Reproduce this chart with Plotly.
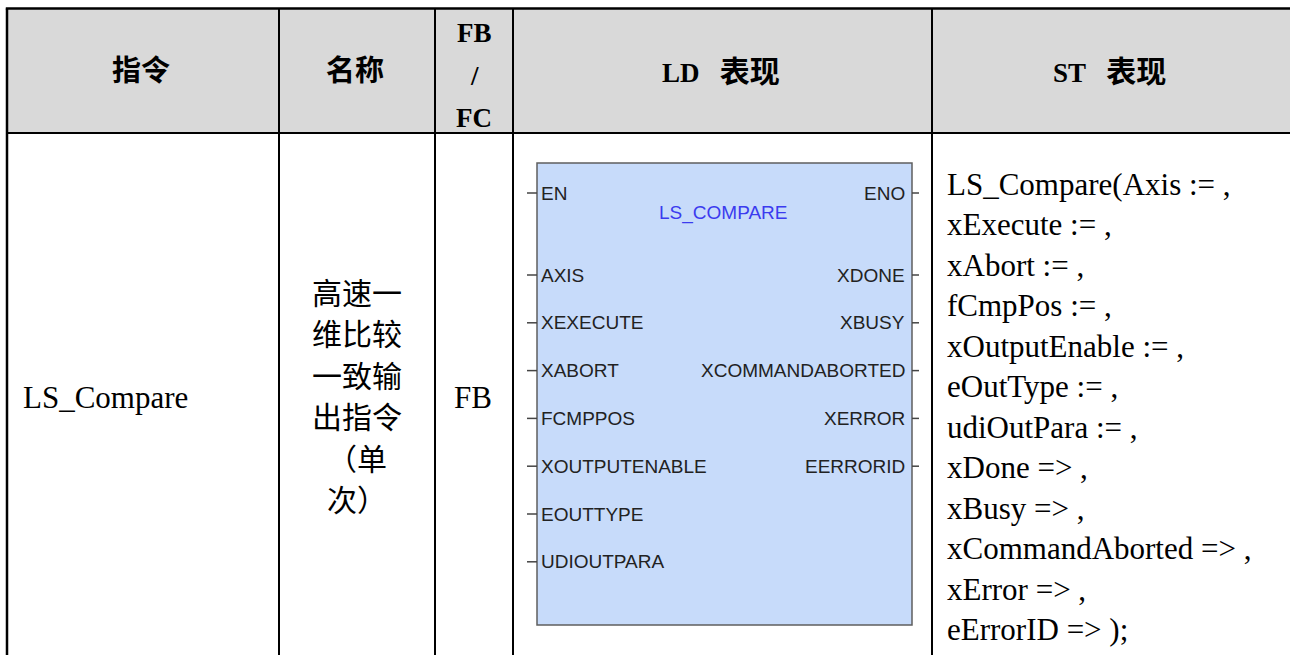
import plotly.graph_objects as go

# ---------------- data (table content) ----------------
header_labels = ["指令", "名称", "FB / FC", ("LD", "表现"), ("ST", "表现")]
fbfc_header_lines = ["FB", "/", "FC"]
instruction = "LS_Compare"
name_lines = ["高速一", "维比较", "一致输", "出指令", "（单", "次）"]
block_kind = "FB"
block_title = "LS_COMPARE"
block_inputs = ["EN", "AXIS", "XEXECUTE", "XABORT", "FCMPPOS",
                "XOUTPUTENABLE", "EOUTTYPE", "UDIOUTPARA"]
block_outputs = ["ENO", "XDONE", "XBUSY", "XCOMMANDABORTED", "XERROR", "EERRORID"]
st_lines = ["LS_Compare(Axis := ,", "xExecute := ,", "xAbort := ,", "fCmpPos := ,",
            "xOutputEnable := ,", "eOutType := ,", "udiOutPara := ,", "xDone => ,",
            "xBusy => ,", "xCommandAborted => ,", "xError => ,", "eErrorID => );"]

# ---------------- layout constants ----------------
W, H = 1290, 655
col_edges = [7, 279, 435, 513, 932, W]
top_y = 8.5
header_bottom = 133
header_fill = "#d9d9d9"
serif = "Liberation Serif, Times New Roman, Noto Sans CJK SC"
cjk_bold = "Liberation Serif, Noto Sans CJK SC"
sans = "Liberation Sans, Arial, sans-serif"

shapes = []
annotations = []

# header background
shapes.append(dict(type="rect", x0=col_edges[0], x1=W, y0=top_y, y1=header_bottom,
                   fillcolor=header_fill, line=dict(width=0), layer="below"))

# header text
header_y = 71
centers = [(col_edges[i] + col_edges[i + 1]) / 2 for i in range(5)]
for i, lab in enumerate(header_labels):
    if i == 2:
        for j, t in enumerate(fbfc_header_lines):
            annotations.append(dict(x=centers[i], y=33 + j * 42.5, text=f"<b>{t}</b>",
                                    showarrow=False, xanchor="center", yanchor="middle",
                                    font=dict(family=serif, size=27, color="#000")))
    elif isinstance(lab, tuple):
        txt = (f"<b>{lab[0]}&nbsp;&nbsp;&nbsp;"
               f"<span style='font-size:30px'>{lab[1]}</span></b>")
        annotations.append(dict(x=centers[i] - 2, y=header_y, text=txt,
                                showarrow=False, xanchor="center", yanchor="middle",
                                font=dict(family=cjk_bold, size=27, color="#000")))
    else:
        annotations.append(dict(x=centers[i] - 2, y=header_y, text=f"<b>{lab}</b>",
                                showarrow=False, xanchor="center", yanchor="middle",
                                font=dict(family=cjk_bold, size=29, color="#000")))

# body row
body_y = 397
annotations.append(dict(x=21, y=body_y, text=instruction, showarrow=False,
                        xanchor="left", yanchor="middle",
                        font=dict(family=serif, size=31, color="#000")))
for j, t in enumerate(name_lines):
    annotations.append(dict(x=centers[1], y=293 + j * 41.5, text=t, showarrow=False,
                            xanchor="center", yanchor="middle",
                            font=dict(family=serif, size=30, color="#000")))
annotations.append(dict(x=centers[2] - 1, y=body_y, text=block_kind, showarrow=False,
                        xanchor="center", yanchor="middle",
                        font=dict(family=serif, size=31, color="#000")))

# function block diagram
bx0, bx1, by0, by1 = 537, 912, 163, 625
shapes.append(dict(type="rect", x0=bx0, x1=bx1, y0=by0, y1=by1,
                   fillcolor="#c7dbfa", line=dict(color="#5f5f5f", width=1.5)))


def pin_y(i):
    return 193 if i == 0 else 275 + (i - 1) * 47.8


for i, t in enumerate(block_inputs):
    y = pin_y(i)
    shapes.append(dict(type="line", x0=527, x1=bx0, y0=y, y1=y,
                       line=dict(color="#444", width=1.5)))
    annotations.append(dict(x=bx0 + 2, y=y, text=t, showarrow=False, xanchor="left",
                            yanchor="middle", font=dict(family=sans, size=19, color="#222")))
for i, t in enumerate(block_outputs):
    y = pin_y(i)
    shapes.append(dict(type="line", x0=bx1, x1=919, y0=y, y1=y,
                       line=dict(color="#444", width=1.5)))
    annotations.append(dict(x=bx1 - 5, y=y, text=t, showarrow=False, xanchor="right",
                            yanchor="middle", font=dict(family=sans, size=19, color="#222")))
annotations.append(dict(x=723, y=213, text=block_title, showarrow=False, xanchor="center",
                        yanchor="middle", font=dict(family=sans, size=19, color="#3b3bef")))

# ST code
for j, t in enumerate(st_lines):
    annotations.append(dict(x=945, y=184 + j * 40.5, text=t, showarrow=False, xanchor="left",
                            yanchor="middle", font=dict(family=serif, size=31, color="#000")))

# grid lines
shapes.append(dict(type="line", x0=col_edges[0] - 1.2, x1=W, y0=top_y, y1=top_y,
                   line=dict(color="#000", width=2.5)))
shapes.append(dict(type="line", x0=col_edges[0], x1=col_edges[0], y0=top_y, y1=H,
                   line=dict(color="#000", width=2.5)))
shapes.append(dict(type="line", x0=col_edges[0], x1=W, y0=header_bottom, y1=header_bottom,
                   line=dict(color="#000", width=2)))
for x in col_edges[1:-1]:
    shapes.append(dict(type="line", x0=x, x1=x, y0=top_y, y1=H,
                       line=dict(color="#000", width=2)))

fig = go.Figure()
fig.add_trace(go.Scatter(x=[0, W], y=[0, H], mode="markers", marker=dict(opacity=0),
                         hoverinfo="skip", showlegend=False))
fig.update_layout(width=W, height=H, margin=dict(l=0, r=0, t=0, b=0),
                  paper_bgcolor="white", plot_bgcolor="white",
                  shapes=shapes, annotations=annotations, showlegend=False,
                  xaxis=dict(range=[0, W], visible=False, fixedrange=True),
                  yaxis=dict(range=[H, 0], visible=False, fixedrange=True))
fig.write_html("out.html", config={"displayModeBar": False},
               post_script="document.body.style.margin='0';document.body.style.overflow='hidden';")
